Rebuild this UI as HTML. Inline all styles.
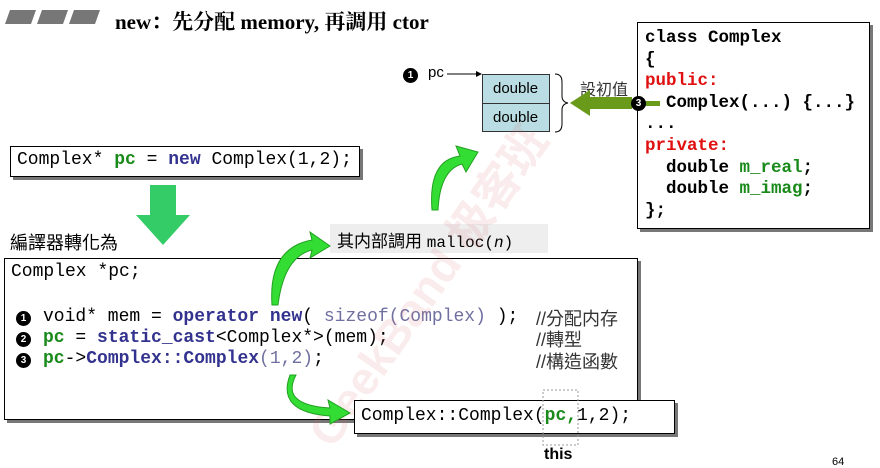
<!DOCTYPE html>
<html><head><meta charset="utf-8"><style>
body{margin:0;width:880px;height:468px;background:#fff;position:relative;overflow:hidden;font-family:"Liberation Sans","Noto Sans CJK TC",sans-serif}
.a{position:absolute;white-space:pre}
.m{font-family:"Liberation Mono","Noto Sans CJK TC",monospace;font-size:18px;line-height:21px}
.box{position:absolute;border:1px solid #000;background:#fff;box-shadow:3px 3px 0 #777}
.b{font-weight:bold}
.g{color:#1a8a1a;font-weight:bold}
.bl{color:#33338f;font-weight:bold}
.r{color:#e01010}
.lg{color:#7070a0}
.c{position:absolute;width:15px;height:15px;border-radius:50%;background:#000;color:#fff;font-size:10px;font-weight:bold;text-align:center;line-height:15px}
.cm{position:absolute;font-size:18px;color:#333;white-space:pre}
</style></head><body>
<svg width="880" height="468" style="position:absolute;left:0;top:0">
<polygon points="10,10 36,10 31,24 5,24" fill="#777"/>
<polygon points="42,10 68,10 63,24 37,24" fill="#777"/>
<polygon points="74,10 100,10 95,24 69,24" fill="#777"/>
</svg>
<div class="a b" style="left:115px;top:6px;font-family:'Liberation Serif','Noto Serif CJK SC',serif;font-size:21px">new：先分配 memory, 再調用 ctor</div>

<!-- memory -->
<div class="c" style="left:403px;top:68px">1</div>
<div class="a" style="left:428px;top:64px;font-size:15px">pc</div>
<div class="a" style="left:482px;top:74px;width:68px;height:58px;background:#b9dde2;border:1px solid #333;box-sizing:border-box"></div>
<div class="a" style="left:482px;top:103px;width:68px;height:1px;background:#333"></div>
<div class="a" style="left:493px;top:80px;font-size:15px">double</div>
<div class="a" style="left:493px;top:109px;font-size:15px">double</div>
<div class="a" style="left:580px;top:76px;font-size:16px;color:#333">設初值</div>

<!-- class box -->
<div class="box" style="left:637px;top:22px;width:231px;height:205px"></div>
<div class="a m b" style="left:645px;top:28px;font-size:17.5px;line-height:21.6px">class Complex
{
<span class="r">public:</span>
  Complex(...) {...}
...
<span class="r">private:</span>
  double <span class="g">m_real</span>;
  double <span class="g">m_imag</span>;
};</div>

<!-- code box 1 -->
<div class="box" style="left:10px;top:146px;width:348px;height:29px"></div>
<div class="a m" style="left:17px;top:150px">Complex* <span class="g">pc</span> = <span class="bl">new</span> Complex(1,2);</div>

<div class="a" style="left:10px;top:229px;font-size:18px">編譯器轉化為</div>

<div class="a" style="left:330px;top:224px;width:218px;height:29px;background:#eee"></div>
<div class="a" style="left:337px;top:227px;font-size:17px">其内部調用 <span class="m" style="font-size:16px">malloc(<i>n</i>)</span></div>

<!-- main box -->
<div class="box" style="left:4px;top:258px;width:632px;height:160px"></div>
<div class="a m" style="left:11px;top:262px">Complex *pc;</div>
<div class="a m" style="left:43px;top:307px">void* mem = <span class="bl">operator new</span>( <span class="lg">sizeof(Complex)</span> );
<span class="g">pc</span> = <span class="bl">static_cast</span>&lt;Complex*&gt;(mem);
<span class="g">pc</span>-&gt;<span class="bl">Complex::Complex</span><span class="lg">(1,2)</span>;</div>
<div class="cm" style="left:536px;top:305px">//分配内存</div>
<div class="cm" style="left:536px;top:326px">//轉型</div>
<div class="cm" style="left:536px;top:348px">//構造函數</div>
<div class="c" style="left:16px;top:311px">1</div>
<div class="c" style="left:16px;top:332px">2</div>
<div class="c" style="left:16px;top:353px">3</div>

<!-- watermark -->
<div class="a" style="left:290px;top:420px;transform:rotate(-55deg);transform-origin:left top;font-size:46px;font-weight:bold;color:rgba(220,110,110,0.13)">GeekBand 极客班</div>

<!-- bottom box -->
<div class="box" style="left:354px;top:400px;width:319px;height:32px"></div>
<div class="a m" style="left:361px;top:406px">Complex::Complex(<span class="g">pc,</span>1,2);</div>
<div class="a b" style="left:544px;top:446px;font-size:16px">this</div>
<div class="a" style="left:832px;top:456px;font-size:11px">64</div>

<svg width="880" height="468" style="position:absolute;left:0;top:0">
<line x1="447" y1="74" x2="478" y2="74" stroke="#000"/>
<polygon points="482,74 476,71 476,77"/>
<path d="M555,74 q7,0 7,8 v14 q0,6 6,7 q-6,1 -6,7 v14 q0,8 -7,8" fill="none" stroke="#000"/>
<rect x="580" y="97" width="52" height="12" fill="#6a9a1a"/>
<polygon points="570,103 590,90 590,116" fill="#6a9a1a"/>
<rect x="630" y="101" width="30" height="5" fill="#6a9a1a"/>
<path d="M272,305 Q268,248 312,240 L310,232 L330,246 L310,258 L312,250 Q284,257 278,305 Z" fill="#33dd33" stroke="#22a022"/>
<path d="M432,210 Q428,160 460,156 L456,146 L478,152 L466,172 L462,164 Q440,170 438,210 Z" fill="#33dd33" stroke="#22a022"/>
<path d="M296,375 Q280,405 330,408 L328,400 L350,413 L330,424 L330,416 Q276,412 290,375 Z" fill="#33dd33" stroke="#22a022"/>
<polygon points="150,185 176,185 176,215 190,215 163,245 136,215 150,215" fill="#33cc66"/>
<rect x="543" y="390" width="35" height="55" fill="none" stroke="#999" stroke-dasharray="2,2"/>
</svg>
<div class="c" style="left:631px;top:96px">3</div>
</body></html>
